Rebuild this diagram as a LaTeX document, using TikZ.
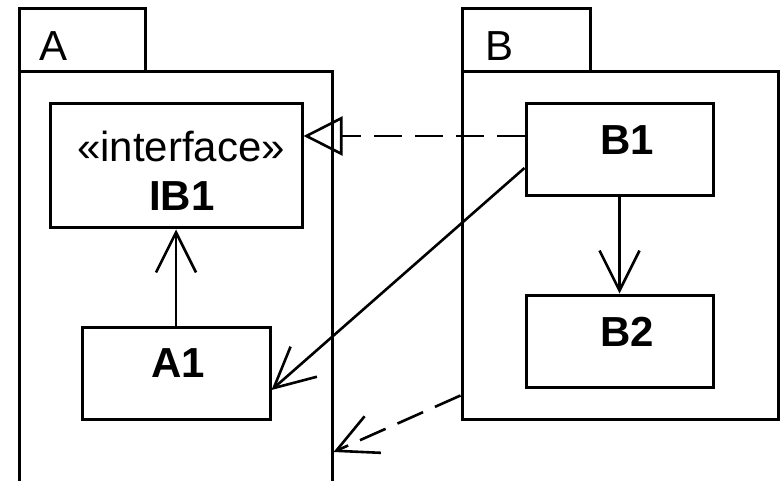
\documentclass[tikz,border=0pt]{standalone}
\usepackage{fontspec}
\setmainfont{Liberation Sans}
\usetikzlibrary{arrows.meta}
\begin{document}
\begin{tikzpicture}[x=1pt,y=-1pt,
  box/.style={draw, line width=3pt, rectangle, inner sep=0pt},
  conn/.style={line width=2.6pt},
  barb/.style={-{Straight Barb[length=40pt,width=40pt]}},
  real/.style={dash pattern=on 28pt off 13pt, -{Triangle[open,length=39pt,width=39pt]}},
  dep/.style={dash pattern=on 28pt off 13pt, -{Straight Barb[length=40pt,width=40pt]}},
  lbl/.style={font=\fontsize{42pt}{50pt}\selectfont, inner sep=0pt, align=center},
  cname/.style={lbl, font=\fontsize{42pt}{50pt}\selectfont\bfseries}
]
\useasboundingbox (0,0) rectangle (782,481);
\clip (0,0) rectangle (782,481);
\fill[white] (0,0) rectangle (782,481);
% package A
\node[box, minimum width=126pt, minimum height=63pt] (tabA) at (82,40.5) {};
\node[box, minimum width=313pt, minimum height=428pt] (bodyA) at (175.5,286) {};
\node[lbl] (labA) at (54,46) {A};
% package B
\node[box, minimum width=128pt, minimum height=63pt] (tabB) at (526,40.5) {};
\node[box, minimum width=316pt, minimum height=347pt] (bodyB) at (620,245.5) {};
\node[lbl] (labB) at (500,46) {B};
% classes
\node[box, minimum width=252pt, minimum height=124pt] (IB1) at (176,166) {};
\node[lbl] (IB1st) at (181,146) {«interface»};
\node[cname] (IB1nm) at (182,196) {IB1};
\node[box, minimum width=188pt, minimum height=92pt,
  label={[cname,xshift=2pt,yshift=10pt]center:A1}] (A1) at (176,373) {};
\node[box, minimum width=187pt, minimum height=92pt,
  label={[cname,xshift=7.5pt,yshift=10pt]center:B1}] (B1) at (619.5,150) {};
\node[box, minimum width=187pt, minimum height=92pt,
  label={[cname,xshift=7.5pt,yshift=9pt]center:B2}] (B2) at (619.5,341) {};
% connectors
\draw[conn,barb] (A1.north) -- (A1.north |- IB1.south);
\draw[conn,barb] (B1.south) -- (B2.north);
\coordinate (rS) at ([yshift=14pt]B1.west);
\draw[conn,real] (rS) -- (rS -| IB1.east);
\coordinate (aS) at ([yshift=-18pt]B1.west);
\coordinate (aE) at ([yshift=-17pt]A1.east);
\draw[conn,barb] (aS) -- (aE);
\coordinate (dS) at ([yshift=25pt]bodyB.south west);
\coordinate (dE) at (bodyA.east |- 0,452);
\draw[conn,dep] (dS) -- (dE);
\end{tikzpicture}
\end{document}
